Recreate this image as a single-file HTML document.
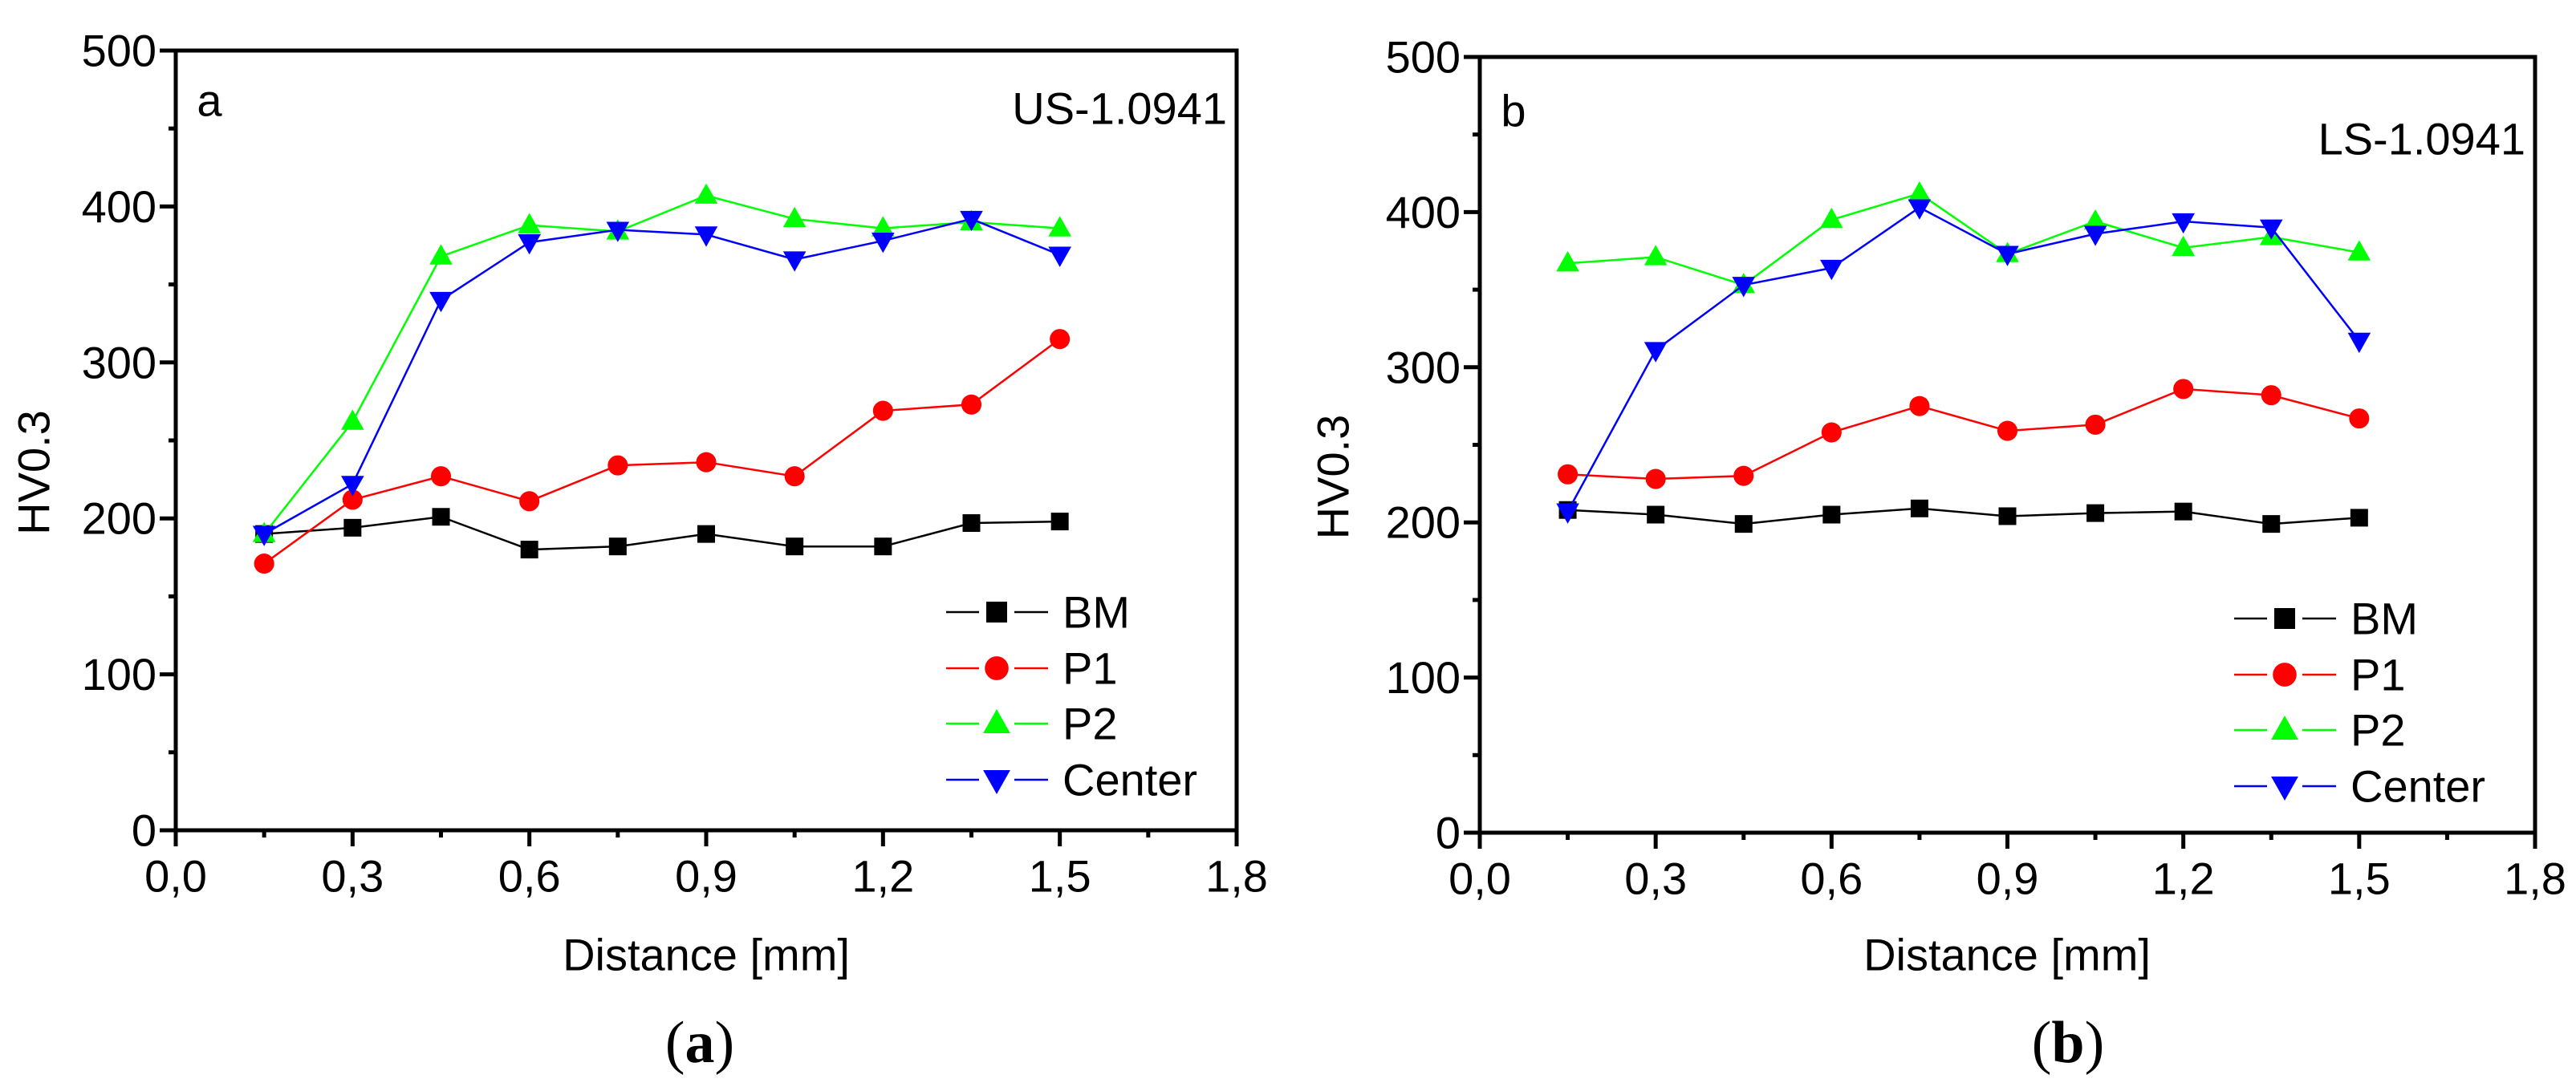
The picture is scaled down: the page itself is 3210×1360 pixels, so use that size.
<!DOCTYPE html>
<html><head><meta charset="utf-8"><style>
html,body{margin:0;padding:0;background:#fff;}
svg{display:block;font-family:"Liberation Sans",Arial,sans-serif;}
</style></head><body>
<svg id="fig" width="3210" height="1360" viewBox="0 0 3210 1360" xmlns="http://www.w3.org/2000/svg"></svg>
<script>
const xValues = [0.15,0.3,0.45,0.6,0.75,0.9,1.05,1.2,1.35,1.5];
const xTicks = [0,0.3,0.6,0.9,1.2,1.5,1.8];
const xTickLabels = ["0,0","0,3","0,6","0,9","1,2","1,5","1,8"];
const yTicks = [0,100,200,300,400,500];
const seriesNames = ["BM","P1","P2","Center"];
const aBM = [190,194,201,180,182,190,182,182,197,198];
const aP1 = [171,212,227,211,234,236,227,269,273,315];
const aP2 = [190,262,368,388,384,407,392,386,390,386];
const aCenter = [190,222,340,377,385,382,366,378,392,369];
const bBM = [208,205,199,205,209,204,206,207,199,203];
const bP1 = [231,228,230,258,275,259,263,286,282,267];
const bP2 = [367,371,353,395,412,373,394,377,384,374];
const bCenter = [207,311,353,364,403,373,386,394,390,317];

const NS="http://www.w3.org/2000/svg";
const svg=document.getElementById('fig');
function el(tag,attrs,parent){const e=document.createElementNS(NS,tag);for(const k in attrs)e.setAttribute(k,attrs[k]);(parent||svg).appendChild(e);return e;}
function txt(parent,x,y,s,size,anchor){
  const t=el('text',{x:x,y:y,'font-size':size,'text-anchor':anchor||'middle','dominant-baseline':'central',fill:'#000'},parent);
  t.textContent=s;return t;
}
const colors={BM:'#000',P1:'#ff0000',P2:'#00ff00',Center:'#0000ff'};
function marker(g,type,x,y,s){
  let m;
  if(type==='BM') m=el('rect',{x:x-s/2,y:y-s/2,width:s,height:s,fill:'#000'},g);
  else if(type==='P1') m=el('circle',{cx:x,cy:y,r:s*0.57,fill:'#ff0000'},g);
  else if(type==='P2'){const w=s*0.65,h=s*1.15;m=el('polygon',{points:`${x},${y-h*0.6} ${x-w},${y+h*0.4} ${x+w},${y+h*0.4}`,fill:'#00ff00'},g);}
  else {const w=s*0.65,h=s*1.15;m=el('polygon',{points:`${x},${y+h*0.6} ${x-w},${y-h*0.4} ${x+w},${y-h*0.4}`,fill:'#0000ff'},g);}
  return m;
}
function panel(cfg){
  const g=el('g',{});
  
  
  const X=v=>cfg.x0+(v/1.8)*(cfg.x1-cfg.x0);
  const Y=v=>cfg.y1-(v/500)*(cfg.y1-cfg.y0);
  const fr=el('rect',{x:cfg.x0,y:cfg.y0,width:cfg.x1-cfg.x0,height:cfg.y1-cfg.y0,fill:'none',stroke:'#000','stroke-width':5},g);
  
  
  for(let v=0;v<=1.8001;v+=0.15){
    const major=Math.abs(v/0.3-Math.round(v/0.3))<1e-6;
    el('line',{x1:X(v),x2:X(v),y1:cfg.y1,y2:cfg.y1+(major?20:9),stroke:'#000','stroke-width':5},g);
  }
  xTicks.forEach((v,i)=>{const t=txt(g,X(v),cfg.y1+57,xTickLabels[i],56);
    
    });
  for(let v=0;v<=500;v+=50){
    const major=v%100===0;
    el('line',{x1:cfg.x0,x2:cfg.x0-(major?20:9),y1:Y(v),y2:Y(v),stroke:'#000','stroke-width':5},g);
  }
  yTicks.forEach(v=>{const t=txt(g,cfg.x0-24,Y(v),String(v),56,'end');
    
    });
  const xt=txt(g,cfg.xlabX,1190,'Distance [mm]',56);
  
  
  const yt=el('text',{transform:`translate(${cfg.ylabX},${(cfg.y0+cfg.y1)/2+40}) rotate(-90)`,'font-size':56,'text-anchor':'middle','dominant-baseline':'central'},g);
  yt.textContent='HV0.3';
  
  
  const pl=txt(g,cfg.x0+42,cfg.y0+cfg.letterDy,cfg.letter,56,'middle');
  
  
  const st=txt(g,cfg.x1-12,cfg.y0+cfg.sampleDy,cfg.sample,56,'end');
  
  
  const cap=el('text',{x:cfg.capX,y:1300,'font-size':74,'font-family':'"Liberation Serif",serif','text-anchor':'middle','dominant-baseline':'central'},g);
  cap.innerHTML='(<tspan font-weight="bold">'+cfg.letter+'</tspan>)';
  
  
  cfg.series.forEach((vals,si)=>{
    const nm=seriesNames[si];
    const sg=el('g',{},g);
    
    
    const pts=vals.map((v,i)=>X(xValues[i])+','+Y(v)).join(' ');
    el('polyline',{points:pts,fill:'none',stroke:colors[nm],'stroke-width':2.5},sg);
    vals.forEach((v,i)=>{const m=marker(sg,nm,X(xValues[i]),Y(v),22);
      
      });
  });
  const lg=el('g',{},g);
  
  
  seriesNames.forEach((nm,i)=>{
    const y=cfg.legY[i];
    const eg=el('g',{},lg);
    
    
    el('line',{x1:cfg.legX,x2:cfg.legX+41,y1:y,y2:y,stroke:colors[nm],'stroke-width':2.5},eg);
    el('line',{x1:cfg.legX+85,x2:cfg.legX+127,y1:y,y2:y,stroke:colors[nm],'stroke-width':2.5},eg);
    marker(eg,nm,cfg.legX+63,y,26);
    txt(eg,cfg.legX+145,y,nm,56,'start');
  });
}
panel({name:'chart-a',x0:219,x1:1541,y0:63,y1:1035,xlabX:880,ylabX:42,capX:872,letter:'a',letterDy:62,sample:'US-1.0941',sampleDy:72,series:[aBM,aP1,aP2,aCenter],legX:1179,legY:[763,833,902,972]});
panel({name:'chart-b',x0:1844,x1:3159,y0:71,y1:1038,xlabX:2501,ylabX:1661,capX:2577,letter:'b',letterDy:67,sample:'LS-1.0941',sampleDy:102,series:[bBM,bP1,bP2,bCenter],legX:2784,legY:[771,841,910,980]});
</script>
</body></html>
